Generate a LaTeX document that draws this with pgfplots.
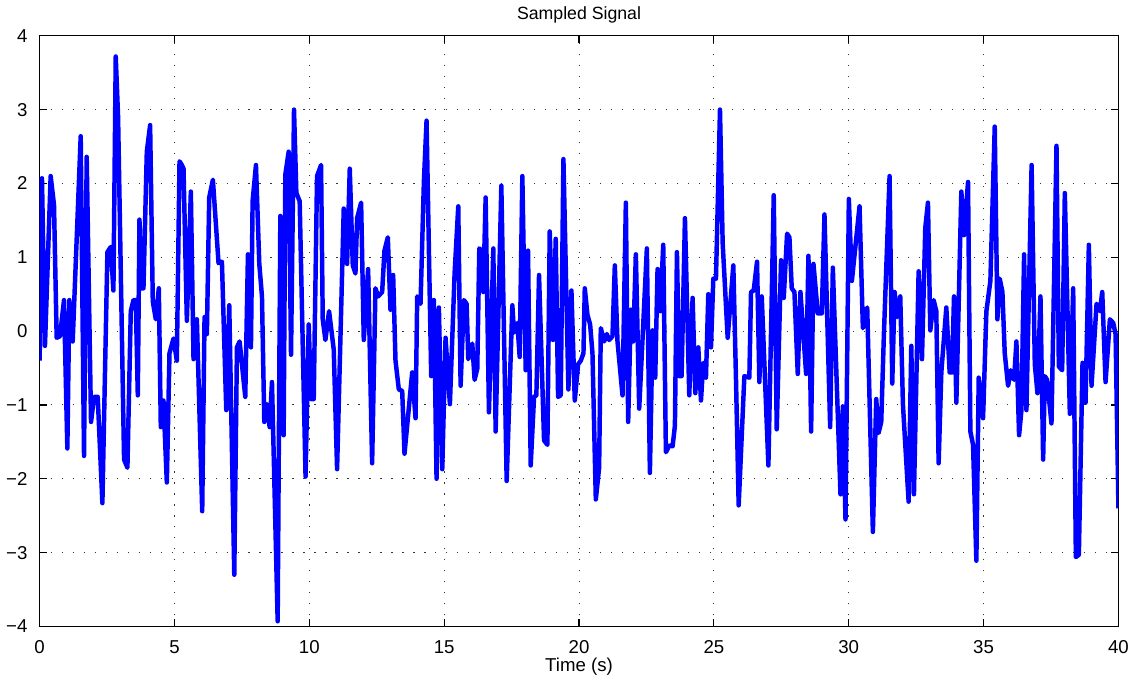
\documentclass[border=0pt]{standalone}
\usepackage{fontspec}
\setmainfont{Liberation Sans}
\usepackage{pgfplots}
\pgfplotsset{compat=1.18}
\begin{document}
\begin{tikzpicture}
\begin{axis}[
  scale only axis, width=579pt, height=317pt,
  xmin=0, xmax=40, ymin=-4, ymax=4,
  xtick={0,5,...,40}, ytick={-4,-3,...,4},
  yticklabels={−4,−3,−2,−1,0,1,2,3,4},
  /pgf/number format/assume math mode=true,
  tick label style={font=\fontsize{10}{12}\selectfont},
  yticklabel style={xshift=-3pt},
  xticklabel style={yshift=-4pt},
  label style={font=\fontsize{10}{12}\selectfont},
  title style={font=\fontsize{9.5}{11}\selectfont, yshift=-2.5pt},
  title={Sampled Signal}, xlabel={Time (s)},
  xlabel style={yshift=4.5pt},
  tick align=inside, major tick length=4pt,
  grid=major,
  major grid style={black!80, line width=0.5pt, dash pattern=on 0.6pt off 5.3pt},
  axis line style={black, line width=0.6pt},
  every tick/.style={black, line width=0.6pt},
]
\addplot[color={rgb,255:red,0;green,0;blue,255}, line width=2.4pt, line join=round, mark=none] coordinates {
(0.00,-0.40)(0.087,2.07)(0.198,-0.20)(0.409,2.10)(0.533,1.71)(0.632,-0.09)(0.755,-0.07)(0.904,0.42)(1.028,-1.59)(1.102,0.42)(1.226,-0.14)(1.523,2.64)(1.646,-1.69)(1.745,2.36)(1.906,-1.23)(2.018,-0.89)(2.154,-0.89)(2.327,-2.33)(2.513,1.07)(2.637,1.14)(2.736,0.55)(2.822,3.72)(2.909,2.90)(3.131,-1.74)(3.255,-1.85)
(3.380,0.27)(3.479,0.42)(3.565,0.42)(3.640,-0.87)(3.701,1.51)(3.788,0.58)(3.850,0.58)(3.974,2.43)(4.097,2.79)(4.196,0.40)(4.308,0.16)(4.419,0.58)(4.493,-1.30)(4.592,-0.94)(4.716,-2.05)(4.815,-0.30)(4.964,-0.10)(5.087,-0.40)(5.187,2.30)(5.273,2.25)(5.335,2.20)(5.459,0.14)(5.607,1.89)(5.706,-0.38)(5.830,0.16)(6.028,-2.44)(6.115,0.19)(6.201,-0.04)(6.288,1.81)(6.424,2.05)(6.634,0.92)
(6.759,0.94)(6.920,-1.07)(7.031,0.35)(7.217,-3.30)(7.316,-0.22)(7.415,-0.14)(7.625,-0.89)(7.724,1.04)(7.835,-0.22)(7.897,1.76)(8.021,2.25)(8.145,0.91)(8.244,0.47)(8.330,-1.23)(8.429,-0.99)(8.529,-1.30)(8.615,-0.69)(8.826,-3.93)(8.925,1.56)(9.048,-1.41)(9.110,2.12)(9.234,2.43)(9.321,-0.32)(9.432,3.00)(9.519,1.87)(9.642,1.76)(9.860,-1.97)(9.977,0.09)
(10.064,-0.92)(10.163,-0.92)(10.286,2.10)(10.435,2.25)(10.497,0.16)(10.596,-0.12)(10.732,0.27)(10.905,-0.25)(11.029,-1.87)(11.276,1.66)(11.400,0.91)(11.499,2.20)(11.611,0.89)(11.710,0.78)(11.772,1.53)(11.920,1.74)(12.019,-0.12)(12.180,0.84)(12.328,-1.79)(12.452,0.58)(12.551,0.47)(12.700,0.53)(12.786,1.09)(12.910,1.27)(13.009,0.29)(13.108,0.76)(13.195,-0.40)(13.318,-0.79)
(13.443,-0.81)(13.529,-1.66)(13.814,-0.56)(13.938,-1.18)(14.000,0.47)(14.123,0.37)(14.247,2.02)(14.346,2.85)(14.519,-0.61)(14.618,0.42)(14.717,-2.00)(14.804,0.32)(14.928,-1.87)(15.051,-0.09)(15.212,-0.99)(15.386,0.78)(15.522,1.69)(15.609,-0.74)(15.732,0.42)(15.831,0.37)(15.893,-0.38)(16.042,-0.17)(16.128,-0.66)(16.227,-0.51)(16.302,1.12)(16.401,1.09)(16.450,0.53)(16.537,1.81)(16.660,-1.10)
(16.822,1.12)(16.908,-1.36)(17.119,1.97)(17.317,-2.03)(17.527,0.35)(17.589,-0.02)(17.713,0.11)(17.799,-0.35)(17.898,2.10)(18.022,-0.53)(18.109,1.09)(18.208,-1.82)(18.332,-0.89)(18.418,-0.87)(18.517,0.76)(18.703,-1.48)(18.827,-1.54)(18.913,1.35)(19.037,-0.12)(19.136,1.25)(19.223,-0.89)(19.322,-0.87)(19.421,2.33)(19.606,-0.79)(19.718,0.55)(19.842,-0.94)(19.965,-0.45)
(20.065,-0.40)(20.164,-0.30)(20.213,0.58)(20.312,0.22)(20.411,0.09)(20.498,-0.30)(20.622,-2.28)(20.745,-1.85)(20.807,0.04)(20.931,-0.14)(21.030,-0.04)(21.117,-0.12)(21.240,-0.07)(21.327,0.89)(21.426,-0.14)(21.612,-0.87)(21.736,1.74)(21.822,-1.23)(21.921,0.29)(22.008,-0.14)(22.107,1.04)(22.231,-1.05)(22.515,1.12)(22.627,-1.92)(22.726,0.01)(22.825,-0.63)(22.911,0.84)(23.010,0.27)(23.122,1.17)(23.221,-1.64)(23.344,-1.55)
(23.469,-1.56)(23.555,-1.28)(23.630,1.07)(23.716,-0.61)(23.803,-0.61)(23.927,1.53)(24.087,-0.87)(24.211,0.45)(24.310,-0.84)(24.422,-0.22)(24.521,-0.94)(24.607,-0.43)(24.706,-0.63)(24.793,0.50)(24.892,-0.22)(24.979,0.71)(25.077,0.71)(25.226,3.00)(25.325,1.20)(25.511,-0.09)(25.721,0.89)(25.820,-0.66)(25.919,-2.36)(26.130,-0.61)(26.315,-0.63)(26.377,0.53)(26.476,0.55)(26.600,0.94)(26.686,-0.69)
(26.774,0.47)(27.021,-1.82)(27.219,1.84)(27.330,-1.33)(27.491,0.96)(27.590,0.45)(27.714,1.32)(27.801,1.27)(27.887,0.58)(27.986,0.53)(28.110,-0.58)(28.209,0.53)(28.420,-0.58)(28.506,1.02)(28.605,-1.36)(28.692,0.91)(28.853,0.24)(29.001,0.24)(29.100,1.58)(29.311,-1.30)(29.410,0.86)(29.694,-2.21)(29.781,-1.02)(29.880,-2.55)(30.004,1.79)
(30.116,0.68)(30.400,1.69)(30.524,0.04)(30.685,0.32)(30.895,-2.72)(31.019,-0.92)(31.106,-1.38)(31.205,-1.23)(31.304,-0.04)(31.514,2.10)(31.613,-0.71)(31.700,0.53)(31.799,0.19)(31.910,0.47)(32.009,-0.99)(32.220,-2.31)(32.319,-0.20)(32.418,-2.21)(32.591,0.81)(32.715,-0.38)(32.838,1.40)(32.937,1.74)(33.024,0.01)(33.148,0.42)(33.247,0.27)(33.333,-1.79)
(33.433,-0.56)(33.618,0.32)(33.742,-0.56)(33.829,-0.56)(33.903,0.47)(33.990,-0.97)(34.175,1.89)(34.275,1.30)(34.423,2.02)(34.510,-1.36)(34.609,-1.54)(34.732,-3.11)(34.819,-0.63)(34.980,-1.18)(35.104,0.27)(35.252,0.68)(35.413,2.77)(35.512,0.16)(35.599,0.71)(35.698,0.53)(35.784,-0.30)(35.908,-0.74)(36.007,-0.53)(36.131,-0.66)(36.217,-0.14)(36.316,-1.41)(36.403,-1.07)(36.502,1.04)(36.589,-1.07)
(36.780,2.25)(36.899,-0.45)(36.998,-0.84)(37.109,0.47)(37.208,-1.74)(37.270,-0.61)(37.356,-0.66)(37.517,-1.25)(37.703,2.51)(37.790,-0.48)(37.913,-0.53)(38.012,1.87)(38.198,-1.12)(38.322,0.58)(38.421,-3.06)(38.532,-3.03)(38.668,-0.43)(38.780,-0.97)(38.903,1.17)(39.002,-0.74)(39.188,0.37)(39.312,0.27)(39.399,0.53)(39.522,-0.69)(39.683,0.16)(39.807,0.11)(39.894,-0.04)(40.000,-2.40)
};
\end{axis}
\end{tikzpicture}
\end{document}
